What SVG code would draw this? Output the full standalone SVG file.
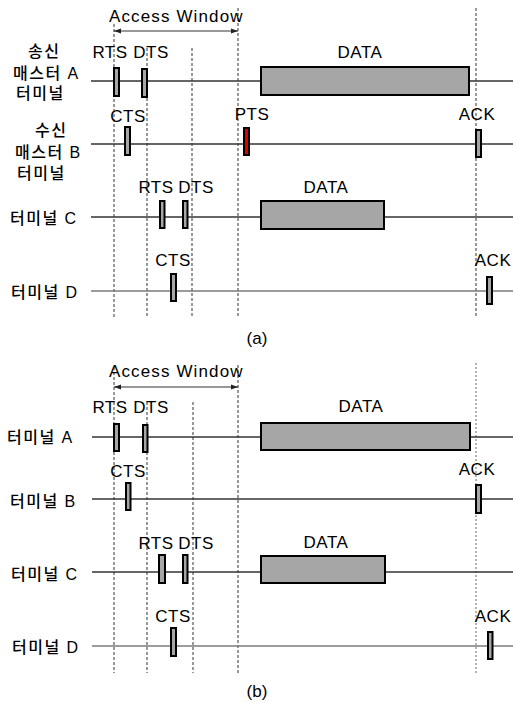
<svg xmlns="http://www.w3.org/2000/svg" width="513" height="702" viewBox="0 0 513 702">
<style>
text{font-family:"Liberation Sans","Noto Sans CJK KR",sans-serif;font-size:17px;fill:#000;letter-spacing:0.5px}
.m{text-anchor:middle}
.lbl{font-size:16px;letter-spacing:1.5px;font-weight:500}
.tl{stroke:#333;stroke-width:1.3;fill:none}
.tlg{stroke:#7a7a7a;stroke-width:1.6;fill:none}
.dash{stroke:#333;stroke-width:1;stroke-dasharray:3,2;fill:none}
.dashg{stroke:#999;stroke-width:1.5;stroke-dasharray:2,2;fill:none}
.pk{fill:#a6a6a6;stroke:#000;stroke-width:2}
.red{fill:#e00000;stroke:#000;stroke-width:2}
.arr{stroke:#333;stroke-width:1;fill:none;marker-start:url(#ah);marker-end:url(#ah)}
</style>
<defs>
<marker id="ah" viewBox="0 0 10 10" refX="10" refY="5" markerWidth="7" markerHeight="7" orient="auto-start-reverse" markerUnits="userSpaceOnUse">
<path d="M0,1.5 L10,5 L0,8.5 Z" fill="#222"/>
</marker>
</defs>
<rect width="513" height="702" fill="#fff"/>

<!-- Panel (a) -->
<g id="panel-a-guides">
<line class="dash" x1="114" y1="24" x2="114" y2="318"/>
<line class="dash" x1="147" y1="48" x2="147" y2="318"/>
<line class="dash" x1="192" y1="48" x2="192" y2="318"/>
<line class="dash" x1="238" y1="8" x2="238" y2="318"/>
<line class="dash" x1="476" y1="8" x2="476" y2="318"/>
<line class="arr" x1="114" y1="31" x2="238" y2="31"/>
<text class="m" x="176" y="22" textLength="134">Access Window</text>
</g>
<g id="a-lines">
<line class="tl" x1="91" y1="81" x2="513" y2="81"/>
<line class="tl" x1="91" y1="144" x2="513" y2="144"/>
<line class="tl" x1="91" y1="217" x2="513" y2="217"/>
<line class="tlg" x1="91" y1="291" x2="513" y2="291"/>
</g>
<g id="a-terminal-A">
<text class="lbl" x="28" y="57">송신</text>
<text class="lbl" x="13" y="79">매스터 A</text>
<text class="lbl" x="16" y="99">터미널</text>
<rect class="pk" x="114" y="68" width="5" height="28"/>
<rect class="pk" x="142" y="69" width="5" height="28"/>
<rect class="pk" x="261" y="67" width="208" height="28"/>
<text class="m" x="110" y="58">RTS</text>
<text class="m" x="151" y="58">DTS</text>
<text class="m" x="360" y="58">DATA</text>
</g>
<g id="a-terminal-B">
<text class="lbl" x="35" y="136">수신</text>
<text class="lbl" x="15" y="158">매스터 B</text>
<text class="lbl" x="17" y="179">터미널</text>
<rect class="pk" x="125" y="127" width="5" height="28"/>
<rect class="red" x="244" y="128" width="5" height="27"/>
<rect class="pk" x="476" y="130" width="5" height="27"/>
<text class="m" x="128" y="122">CTS</text>
<text class="m" x="252" y="120">PTS</text>
<text class="m" x="477" y="120">ACK</text>
</g>
<g id="a-terminal-C">
<text class="lbl" x="10" y="224">터미널 C</text>
<rect class="pk" x="160" y="201" width="4.5" height="27"/>
<rect class="pk" x="183" y="201" width="4.5" height="27"/>
<rect class="pk" x="261" y="201" width="123" height="28"/>
<text class="m" x="156" y="193">RTS</text>
<text class="m" x="196" y="193">DTS</text>
<text class="m" x="326" y="193">DATA</text>
</g>
<g id="a-terminal-D">
<text class="lbl" x="11" y="298">터미널 D</text>
<rect class="pk" x="171" y="274" width="5" height="27"/>
<rect class="pk" x="487" y="277" width="5" height="27"/>
<text class="m" x="173" y="266">CTS</text>
<text class="m" x="493" y="266">ACK</text>
</g>
<text class="m" x="257" y="344" style="letter-spacing:0">(a)</text>

<!-- Panel (b) -->
<g id="panel-b-guides">
<line class="dash" x1="114" y1="367" x2="114" y2="673"/>
<line class="dash" x1="147" y1="402" x2="147" y2="673"/>
<line class="dash" x1="193" y1="402" x2="193" y2="673"/>
<line class="dash" x1="238" y1="365" x2="238" y2="673"/>
<line class="dashg" x1="476" y1="363" x2="476" y2="674"/>
<line class="arr" x1="114" y1="387" x2="238" y2="387"/>
<text class="m" x="176" y="377" textLength="134">Access Window</text>
</g>
<g id="b-lines">
<line class="tl" x1="92" y1="437" x2="513" y2="437"/>
<line class="tl" x1="92" y1="499" x2="513" y2="499"/>
<line class="tl" x1="92" y1="572" x2="513" y2="572"/>
<line class="tlg" x1="92" y1="646" x2="513" y2="646"/>
</g>
<g id="b-terminal-A">
<text class="lbl" x="7" y="443">터미널 A</text>
<rect class="pk" x="114" y="424" width="5" height="27"/>
<rect class="pk" x="143" y="425" width="4.5" height="27"/>
<rect class="pk" x="261" y="423" width="209" height="27"/>
<text class="m" x="110" y="413">RTS</text>
<text class="m" x="151" y="413">DTS</text>
<text class="m" x="361" y="412">DATA</text>
</g>
<g id="b-terminal-B">
<text class="lbl" x="10" y="507">터미널 B</text>
<rect class="pk" x="126" y="483" width="4.5" height="27"/>
<rect class="pk" x="476" y="485" width="5" height="28"/>
<text class="m" x="128" y="477">CTS</text>
<text class="m" x="477" y="475">ACK</text>
</g>
<g id="b-terminal-C">
<text class="lbl" x="11" y="580">터미널 C</text>
<rect class="pk" x="159" y="555" width="6" height="28"/>
<rect class="pk" x="183" y="555" width="4.5" height="28"/>
<rect class="pk" x="261" y="556" width="124" height="27"/>
<text class="m" x="156" y="549">RTS</text>
<text class="m" x="196" y="549">DTS</text>
<text class="m" x="326" y="548">DATA</text>
</g>
<g id="b-terminal-D">
<text class="lbl" x="12" y="653">터미널 D</text>
<rect class="pk" x="171" y="628" width="5" height="28"/>
<rect class="pk" x="488" y="632" width="4.5" height="27"/>
<text class="m" x="173" y="622">CTS</text>
<text class="m" x="493" y="622">ACK</text>
</g>
<text class="m" x="257" y="697" style="letter-spacing:0">(b)</text>
</svg>
